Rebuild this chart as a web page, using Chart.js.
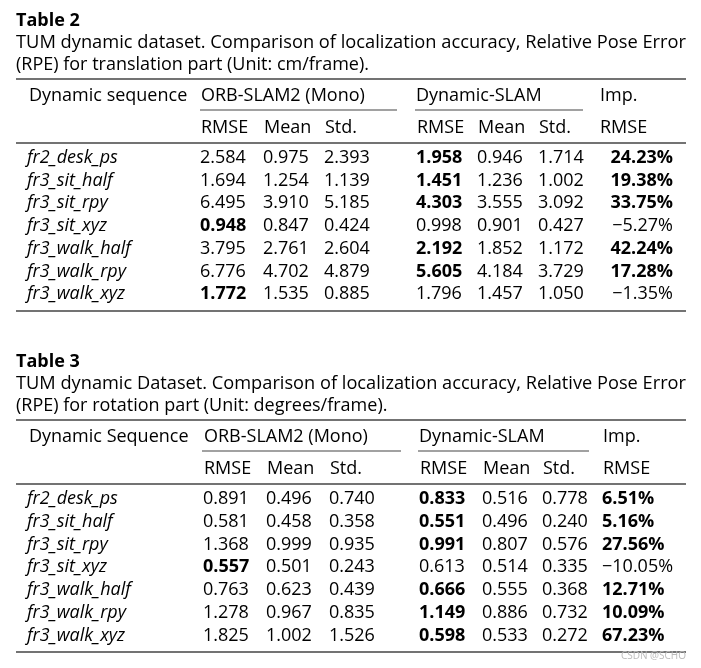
<!DOCTYPE html>
<html lang="en">
<head>
<meta charset="UTF-8">
<title>TUM dynamic dataset - RPE tables</title>
<script src="https://cdn.jsdelivr.net/npm/chart.js"></script>
<style>
    body { margin: 0; background: #fff; }
    #wrap { width: 701px; height: 668px; }
</style>
</head>
<body>
<div id="wrap"><canvas id="tableChart" width="701" height="668"></canvas></div>
<script>
    // ---- data ----
    const sequences = ['fr2_desk_ps', 'fr3_sit_half', 'fr3_sit_rpy', 'fr3_sit_xyz', 'fr3_walk_half', 'fr3_walk_rpy', 'fr3_walk_xyz'];
    const groupTitles = ['ORB-SLAM2 (Mono)', 'Dynamic-SLAM', 'Imp.'];
    const subHeaders = ['RMSE', 'Mean', 'Std.', 'RMSE', 'Mean', 'Std.', 'RMSE'];

    // Table 2: translation (cm/frame)
    const transTitle = 'Table 2';
    const transCaption = ['TUM dynamic dataset. Comparison of localization accuracy, Relative Pose Error',
                          '(RPE) for translation part (Unit: cm/frame).'];
    const transFirstHead = 'Dynamic sequence';
    const transOrbRmse = [2.584, 1.694, 6.495, 0.948, 3.795, 6.776, 1.772];
    const transOrbMean = [0.975, 1.254, 3.910, 0.847, 2.761, 4.702, 1.535];
    const transOrbStd  = [2.393, 1.139, 5.185, 0.424, 2.604, 4.879, 0.885];
    const transDynRmse = [1.958, 1.451, 4.303, 0.998, 2.192, 5.605, 1.796];
    const transDynMean = [0.946, 1.236, 3.555, 0.901, 1.852, 4.184, 1.457];
    const transDynStd  = [1.714, 1.002, 3.092, 0.427, 1.172, 3.729, 1.050];
    const transImp     = [24.23, 19.38, 33.75, -5.27, 42.24, 17.28, -1.35];

    // Table 3: rotation (degrees/frame)
    const rotTitle = 'Table 3';
    const rotCaption = ['TUM dynamic Dataset. Comparison of localization accuracy, Relative Pose Error',
                        '(RPE) for rotation part (Unit: degrees/frame).'];
    const rotFirstHead = 'Dynamic Sequence';
    const rotOrbRmse = [0.891, 0.581, 1.368, 0.557, 0.763, 1.278, 1.825];
    const rotOrbMean = [0.496, 0.458, 0.999, 0.501, 0.623, 0.967, 1.002];
    const rotOrbStd  = [0.740, 0.358, 0.935, 0.243, 0.439, 0.835, 1.526];
    const rotDynRmse = [0.833, 0.551, 0.991, 0.613, 0.666, 1.149, 0.598];
    const rotDynMean = [0.516, 0.496, 0.807, 0.514, 0.555, 0.886, 0.533];
    const rotDynStd  = [0.778, 0.240, 0.576, 0.335, 0.368, 0.732, 0.272];
    const rotImp     = [6.51, 5.16, 27.56, -10.05, 12.71, 10.09, 67.23];

    // ---- layout (pixels, scales map 1:1 to the canvas) ----
    const FONT = '"Open Sans", "DejaVu Sans", sans-serif';
    const INK = '#000';
    const RULE = '#444';
    const layouts = [
        { top: 0,   cols: [200, 263, 324, 416, 477, 538], impX: 673, impAlign: 'right', impHeadX: 600,
          orbRule: [200, 397], dynRule: [415, 583], rowStep: 22.7 },
        { top: 341, cols: [203, 266, 329, 419, 482, 542], impX: 602, impAlign: 'left',  impHeadX: 603,
          orbRule: [202, 401], dynRule: [418, 589], rowStep: 22.8 }
    ];

    const fmt = v => v.toFixed(3);
    const fmtImp = v => (v < 0 ? '\u2212' : '') + Math.abs(v).toFixed(2) + '%';

    function cell(x, y, text, style, align, fit) {
        return { x: x, y: y, text: text, style: style || 'normal', align: align || 'left', fit: fit || 0 };
    }

    function buildTable(L, title, caption, firstHead, cols, imp) {
        const t = L.top;
        const cells = [];
        const rules = [];
        cells.push(cell(16, t + 26, title, 'bold'));
        cells.push(cell(16, t + 48, caption[0], 'normal', 'left', 670));
        cells.push(cell(16, t + 70, caption[1], 'normal', 'left', 0));

        cells.push(cell(29, t + 101, firstHead));
        cells.push(cell(L.cols[0] + 1, t + 101, groupTitles[0]));
        cells.push(cell(L.cols[3], t + 101, groupTitles[1]));
        cells.push(cell(L.impHeadX, t + 101, groupTitles[2]));
        subHeaders.forEach((h, i) => {
            const x = i < 6 ? L.cols[i] + 1 : L.impHeadX;
            cells.push(cell(x, t + 133, h));
        });

        sequences.forEach((name, r) => {
            const y = t + 163 + r * L.rowStep;
            cells.push(cell(27, y, name, 'italic'));
            const orbBest = cols[0][r] < cols[3][r];
            cols.forEach((arr, c) => {
                let style = 'normal';
                if (c === 0 && orbBest) style = 'bold';
                if (c === 3 && !orbBest) style = 'bold';
                cells.push(cell(L.cols[c], y, fmt(arr[r]), style));
            });
            cells.push(cell(L.impX, y, fmtImp(imp[r]), imp[r] > 0 ? 'bold' : 'normal', L.impAlign));
        });

        rules.push({ y: t + 79,  x0: 16, x1: 686, w: 1.7 });
        rules.push({ y: t + 110, x0: L.orbRule[0], x1: L.orbRule[1], w: 1.2 });
        rules.push({ y: t + 110, x0: L.dynRule[0], x1: L.dynRule[1], w: 1.2 });
        rules.push({ y: t + 143, x0: 16, x1: 686, w: 1.4 });
        rules.push({ y: t + 311, x0: 16, x1: 686, w: 1.7 });
        return { cells, rules };
    }

    const t2 = buildTable(layouts[0], transTitle, transCaption, transFirstHead,
        [transOrbRmse, transOrbMean, transOrbStd, transDynRmse, transDynMean, transDynStd], transImp);
    const t3 = buildTable(layouts[1], rotTitle, rotCaption, rotFirstHead,
        [rotOrbRmse, rotOrbMean, rotOrbStd, rotDynRmse, rotDynMean, rotDynStd], rotImp);
    const watermark = [cell(686, 659, 'CSDN @SCHO', 'mark', 'right')];

    const ruleSets = t2.rules.concat(t3.rules).map(r => ({
        data: [{ x: r.x0, y: r.y }, { x: r.x1, y: r.y }],
        showLine: true, pointRadius: 0, borderColor: RULE, borderWidth: r.w, borderCapStyle: 'butt'
    }));

    const textSet = (cells) => ({ data: cells, pointRadius: 0, isText: true });

    const cellText = {
        id: 'cellText',
        afterDatasetsDraw(chart) {
            const ctx = chart.ctx;
            chart.data.datasets.forEach((ds, di) => {
                if (!ds.isText) return;
                const meta = chart.getDatasetMeta(di);
                meta.data.forEach((el, i) => {
                    const raw = ds.data[i];
                    ctx.save();
                    if (raw.style === 'mark') {
                        ctx.font = '10px ' + FONT;
                        ctx.fillStyle = '#bbb';
                    } else {
                        ctx.font = (raw.style === 'bold' ? 'bold ' : raw.style === 'italic' ? 'italic ' : '') + '18px ' + FONT;
                        ctx.fillStyle = INK;
                    }
                    ctx.textAlign = raw.align;
                    ctx.textBaseline = 'alphabetic';
                    // stretch a line to a fixed width when asked (justified caption line)
                    let sx = 1;
                    if (raw.fit) sx = raw.fit / ctx.measureText(raw.text).width;
                    ctx.translate(el.x, el.y);
                    ctx.scale(sx, 1);
                    ctx.fillText(raw.text, 0, 0);
                    ctx.restore();
                });
            });
        }
    };

    new Chart(document.getElementById('tableChart'), {
        type: 'scatter',
        data: { datasets: ruleSets.concat([textSet(t2.cells), textSet(t3.cells), textSet(watermark)]) },
        options: {
            responsive: false,
            devicePixelRatio: 1,
            animation: false,
            events: [],
            layout: { padding: 0 },
            plugins: { legend: { display: false }, tooltip: { enabled: false } },
            scales: {
                x: { type: 'linear', min: 0, max: 701, display: false },
                y: { type: 'linear', min: 0, max: 668, reverse: true, display: false }
            }
        },
        plugins: [cellText]
    });
</script>
</body>
</html>
